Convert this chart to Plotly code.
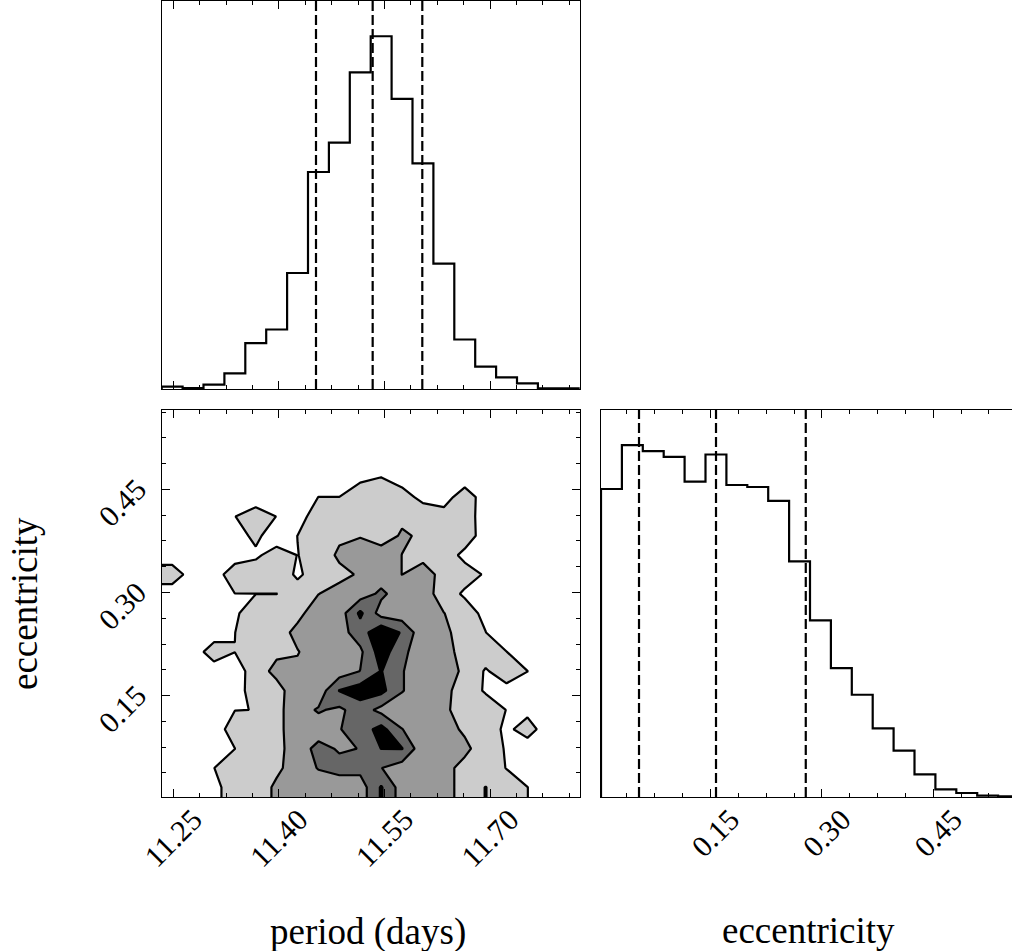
import numpy as np
import plotly.graph_objects as go

# ---------------- data ----------------
period_range = [11.2335, 11.8273]
ecc_range = [0.0025, 0.5655]

period_counts = [7, 3, 13, 47, 137, 178, 347, 649, 737, 947,
                 1055, 868, 675, 375, 148, 67, 35, 17, 2, 2]
ecc_counts = [928, 1060, 1042, 1025, 950, 1032, 940, 934, 892, 710,
              532, 388, 308, 207, 140, 68, 23, 12, 4, 2]

period_quantiles = [11.4527, 11.5332, 11.6037]
ecc_quantiles = [0.0537, 0.1574, 0.2783]

period_ticks = [11.25, 11.40, 11.55, 11.70]
period_ticklabels = ["11.25", "11.40", "11.55", "11.70"]
ecc_ticks = [0.15, 0.30, 0.45]
ecc_ticklabels = ["0.15", "0.30", "0.45"]

# 2D density (rows: eccentricity bins bottom->top, cols: period bins left->right)
# contour levels at 1, 2, 3, 4
density = [
    [0, 0, 0.72, 1.5, 1.4, 2.2, 2.5, 2.5, 2.5, 2.5, 4.1, 2.5, 2.5, 2.4, 1.6, 2.02, 1.5, 1.02, 0, 0],
    [0, 0, 0.99, 1.5, 1.5, 1.79, 2.5, 3.05, 3.3, 3.3, 3.02, 2.5, 2.5, 2.4, 1.6, 1.5, 0.97, 0.2, 0, 0],
    [0, 0, 0.3, 0.99, 1.5, 1.7, 2.5, 3.3, 2.9, 3.02, 4.02, 4.05, 2.3, 2.5, 2.3, 1.3, 0.95, 0.5, 0, 0],
    [0, 0, 0.46, 1.5, 1.5, 1.7, 2.6, 2.5, 2.95, 3.5, 4.35, 3.02, 2.5, 2.5, 1.8, 1.5, 0.8, 1.4, 0.5, 0],
    [0, 0, 0, 0.98, 1.01, 1.7, 2.6, 3.1, 2.8, 3.5, 2.7, 2.5, 2.5, 2.3, 1.3, 1.5, 0.98, 0.75, 0, 0],
    [0, 0, 0, 0.5, 1.55, 1.6, 2.65, 2.4, 4.05, 4.5, 4.3, 3.05, 2.5, 2.3, 1.5, 0.9, 0.7, 0, 0, 0],
    [0, 0, 0.5, 0.5, 1.5, 2.3, 2.2, 2.5, 2.5, 3.02, 4.05, 3.05, 2.5, 2.5, 1.8, 0.9, 1.5, 1.02, 0, 0],
    [0, 0.5, 1.5, 1.01, 1.5, 1.8, 1.95, 2.5, 2.5, 2.8, 4.5, 3.3, 2.3, 2.5, 1.5, 1.5, 1.02, 0, 0, 0],
    [0, 0, 0.5, 0.99, 1.5, 1.5, 2.3, 2.5, 2.6, 3.5, 4.8, 3.9, 2.3, 2.5, 1.02, 1.02, 0, 0, 0, 0],
    [0, 0, 0, 0.86, 1.5, 1.5, 1.7, 2.6, 2.5, 4.2, 2.57, 2.4, 2.4, 2.02, 1.5, 0.71, 0, 0, 0, 0],
    [0.5, 0, 0.3, 0.99, 0.99, 0.99, 1.43, 1.98, 2.4, 2.5, 3.2, 2.5, 2.5, 1.5, 0.85, 0.3, 0, 0, 0, 0],
    [1.5, 0.57, 0.5, 1.6, 1.68, 1.55, 0.85, 1.43, 1.7, 2.13, 2.5, 1.99, 2.6, 1.55, 1.4, 0.9, 0, 0, 0, 0],
    [0.5, 0, 0, 0.5, 0.8, 1.5, 0.98, 1.33, 2.2, 2.45, 2.5, 1.99, 1.6, 1.5, 0.75, 0.3, 0, 0, 0, 0],
    [0, 0, 0, 0.54, 1.25, 0.36, 1.01, 1.7, 1.8, 1.95, 1.5, 2.12, 1.865, 1.7, 1.5, 0.55, 0, 0, 0, 0],
    [0, 0, 0, 0.98, 1.6, 0.98, 0.4, 1.73, 1.7, 1.8, 1.7, 1.8, 1.78, 1.37, 1.5, 0.5, 0, 0, 0, 0],
    [0, 0, 0, 0, 0.35, 0, 0.2, 1.01, 1.01, 1.6, 1.8, 1.5, 0.65, 0.6, 1.5, 0.55, 0, 0, 0, 0],
    [0, 0, 0, 0, 0, 0, 0, 0, 0, 0.8, 1.02, 0.5, 0, 0, 0.5, 0, 0, 0, 0, 0],
    [0] * 20,
    [0] * 20,
    [0] * 20,
]
contour_levels = [1, 2, 3, 4]

# ---------------- figure geometry ----------------
W, H = 1012, 951
FONT = "Liberation Serif"
LW = 2.2

def px_x(p):
    return p / W

def px_y(p):
    return 1 - p / H

dom_left = [px_x(161.7), px_x(579.7)]
dom_right = [px_x(601.0), 1.0]
dom_top = [px_y(389), px_y(1)]
dom_bottom = [px_y(797), px_y(410)]

nb = len(period_counts)
p_edges = np.linspace(period_range[0], period_range[1], nb + 1)
e_edges = np.linspace(ecc_range[0], ecc_range[1], nb + 1)

def step(edges, counts):
    xs = np.repeat(edges, 2)
    ys = np.concatenate([[0], np.repeat(counts, 2), [0]])
    return xs, ys

fig = go.Figure()

# top-left: period histogram
xs, ys = step(p_edges, period_counts)
fig.add_trace(go.Scatter(x=xs, y=ys, mode="lines", line=dict(color="black", width=LW),
                         xaxis="x", yaxis="y", showlegend=False, hoverinfo="skip"))

# bottom-left: 2D contour
z = np.array(density, dtype=float)
zp = np.pad(z, 1, mode="edge")
dxp = (period_range[1] - period_range[0]) / nb
dye = (ecc_range[1] - ecc_range[0]) / nb
xc = period_range[0] + (np.arange(-1, nb + 1) + 0.5) * dxp
yc = ecc_range[0] + (np.arange(-1, nb + 1) + 0.5) * dye
fig.add_trace(go.Contour(
    x=xc, y=yc, z=zp, xaxis="x2", yaxis="y2",
    autocontour=False,
    contours=dict(start=contour_levels[0], end=contour_levels[-1], size=1,
                  coloring="fill", showlines=True),
    colorscale=[[0, "#ffffff"], [0.25, "#cccccc"], [0.5, "#999999"],
                [0.75, "#666666"], [1, "#000000"]],
    line=dict(color="black", width=LW, smoothing=0),
    showscale=False, hoverinfo="skip",
))

# bottom-right: eccentricity histogram
xs, ys = step(e_edges, ecc_counts)
fig.add_trace(go.Scatter(x=xs, y=ys, mode="lines", line=dict(color="black", width=LW),
                         xaxis="x3", yaxis="y3", showlegend=False, hoverinfo="skip"))

# quantile lines
for q in period_quantiles:
    fig.add_shape(type="line", xref="x", yref="y domain", x0=q, x1=q, y0=0, y1=1,
                  line=dict(color="black", width=LW, dash="10px,4px"))
for q in ecc_quantiles:
    fig.add_shape(type="line", xref="x3", yref="y3 domain", x0=q, x1=q, y0=0, y1=1,
                  line=dict(color="black", width=LW, dash="10px,4px"))

tickfont = dict(family=FONT, size=30, color="black")
common = dict(showline=True, linecolor="black", linewidth=1.2, ticks="inside",
              ticklen=8, tickwidth=1.2, tickcolor="black", showgrid=False,
              zeroline=False, tickfont=tickfont, automargin=False)

minor_p = dict(ticks="inside", ticklen=4, tickwidth=1.1, tickcolor="black",
               tick0=period_ticks[0], dtick=0.0375, showgrid=False)
minor_e = dict(ticks="inside", ticklen=4, tickwidth=1.1, tickcolor="black",
               tick0=ecc_ticks[0], dtick=0.0375, showgrid=False)

ecc_right_end = ecc_range[0] + (W - 601.0) * (ecc_range[1] - ecc_range[0]) / 418.0

plain_y = dict(showline=True, linecolor="black", linewidth=1.2, ticks="",
               showticklabels=False, showgrid=False, zeroline=False, automargin=False)

fig.update_layout(
    width=W, height=H, margin=dict(l=0, r=0, t=0, b=0, pad=0, autoexpand=False),
    paper_bgcolor="white", plot_bgcolor="white", showlegend=False,
    xaxis=dict(domain=dom_left, anchor="y", range=period_range, mirror="allticks",
               tickvals=period_ticks, showticklabels=False, minor=minor_p, **common),
    yaxis=dict(domain=dom_top, anchor="x", range=[0, 1.1 * max(period_counts)],
               mirror=True, **plain_y),
    xaxis2=dict(domain=dom_left, anchor="y2", range=period_range, mirror="allticks",
                tickvals=period_ticks, ticktext=period_ticklabels, tickangle=-45,
                ticklabelshift=20, ticklabelstandoff=-8, minor=minor_p, **common),
    yaxis2=dict(domain=dom_bottom, anchor="x2", range=ecc_range, mirror="allticks",
                tickvals=ecc_ticks, ticktext=ecc_ticklabels, tickangle=-45,
                ticklabelshift=-4, ticklabelstandoff=17, minor=minor_e, **common),
    xaxis3=dict(domain=dom_right, anchor="y3", range=[ecc_range[0], ecc_right_end],
                mirror="allticks", tickvals=ecc_ticks, ticktext=ecc_ticklabels,
                tickangle=-45, ticklabelshift=20, ticklabelstandoff=-8,
                minor=minor_e, **common),
    yaxis3=dict(domain=dom_bottom, anchor="x3", range=[0, 1.1 * max(ecc_counts)],
                mirror=False, **plain_y),
)

labfont = dict(family=FONT, size=37, color="black")
fig.add_annotation(text="period (days)", x=px_x(368), y=px_y(932), xref="paper", yref="paper",
                   showarrow=False, xanchor="center", yanchor="middle", font=labfont)
fig.add_annotation(text="eccentricity", x=px_x(808), y=px_y(930), xref="paper", yref="paper",
                   showarrow=False, xanchor="center", yanchor="middle", font=labfont)
fig.add_annotation(text="eccentricity", x=px_x(24), y=px_y(604), xref="paper", yref="paper",
                   showarrow=False, xanchor="center", yanchor="middle", textangle=-90, font=labfont)

fig.write_html("out.html")
